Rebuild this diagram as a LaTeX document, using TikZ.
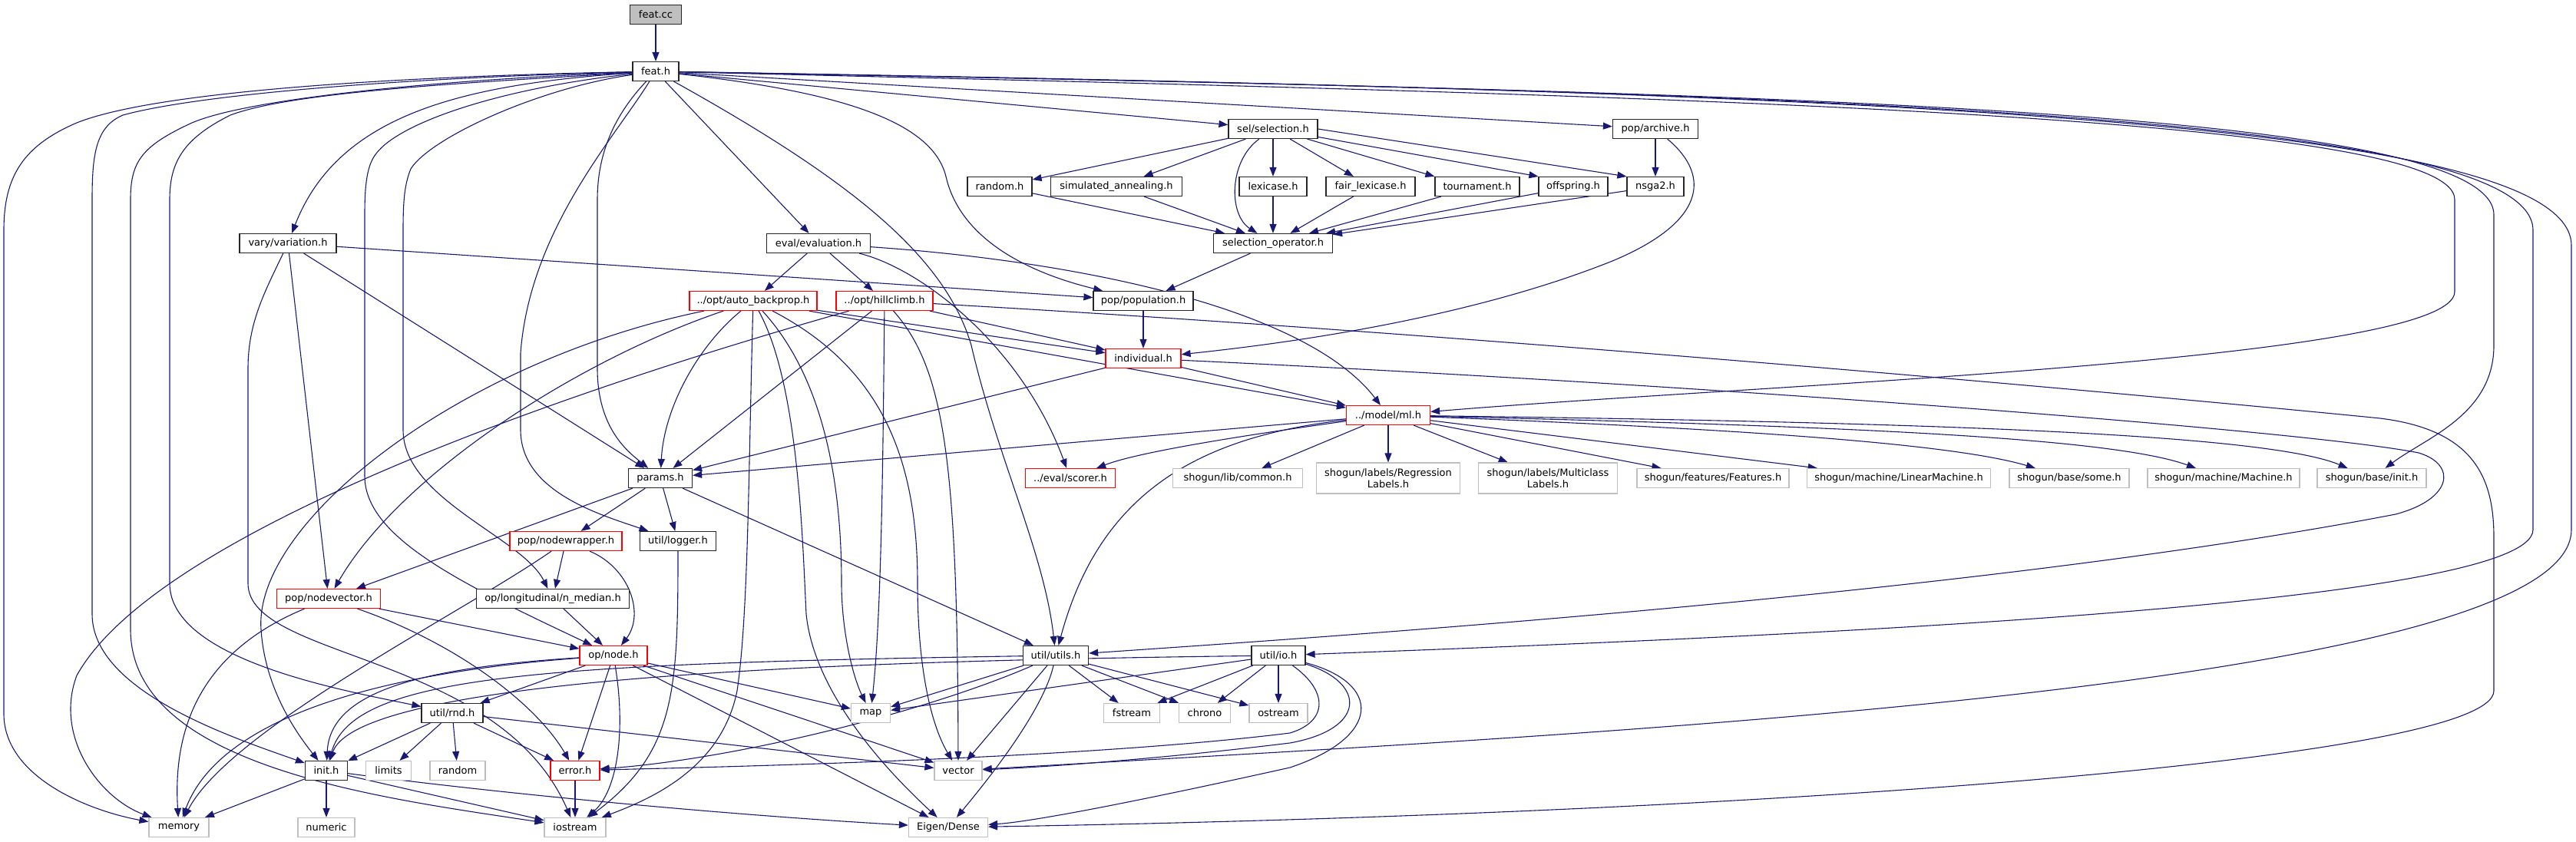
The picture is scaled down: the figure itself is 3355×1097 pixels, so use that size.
\documentclass[tikz,border=0pt]{standalone}
\usepackage{fontspec}
\setmainfont{DejaVu Sans}
\usepackage{tikz}
\usetikzlibrary{arrows.meta}
\definecolor{edgeblue}{RGB}{25,25,112}
\definecolor{extgray}{RGB}{191,191,191}
\definecolor{truncred}{RGB}{255,0,0}
\pgfdeclarelayer{background}
\pgfsetlayers{background,main}
\tikzset{
  file/.style={draw=black!85,line width=1.2pt,fill=white,inner sep=0pt,minimum height=25pt,
    font=\fontsize{13}{15}\selectfont},
  root/.style={file,fill=extgray},
  trunc/.style={file,draw=truncred},
  ext/.style={file,draw=extgray},
  dep/.style={draw=edgeblue,line width=1.1pt,-{Triangle[length=12pt,width=9pt]}}
}

\begin{document}
\begin{tikzpicture}[x=1pt,y=-1pt]
  \useasboundingbox (0,0) rectangle (3355,1097);
  % rows of the graph
  \node[root,minimum width=67pt] (fcc) at (854,19) {feat.cc};
  \node[file,minimum width=60pt] (fh) at (854,93) {feat.h};
  \node[file,minimum width=116pt] (sel) at (1658,168) {sel/selection.h};
  \node[file,minimum width=111pt] (arch) at (2156,168) {pop/archive.h};
  \node[file,minimum width=84pt] (rsel) at (1302,243) {random.h};
  \node[file,minimum width=171pt] (sa) at (1454,243) {simulated\_annealing.h};
  \node[file,minimum width=88pt] (lex) at (1658,243) {lexicase.h};
  \node[file,minimum width=116pt] (flex) at (1785,243) {fair\_lexicase.h};
  \node[file,minimum width=110pt] (tour) at (1924,243) {tournament.h};
  \node[file,minimum width=90pt] (offs) at (2049,243) {offspring.h};
  \node[file,minimum width=74pt] (nsga) at (2156,243) {nsga2.h};
  \node[file,minimum width=155pt] (selop) at (1658,317) {selection\_operator.h};
  \node[file,minimum width=126pt] (vary) at (375,317) {vary/variation.h};
  \node[file,minimum width=135pt] (eval) at (1066,317) {eval/evaluation.h};
  \node[trunc,minimum width=166pt] (abp) at (981,392) {../opt/auto\_backprop.h};
  \node[trunc,minimum width=126pt] (hill) at (1152,392) {../opt/hillclimb.h};
  \node[file,minimum width=130pt] (popu) at (1489,392) {pop/population.h};
  \node[trunc,minimum width=98pt] (indiv) at (1489,467) {individual.h};
  \node[trunc,minimum width=109pt] (ml) at (1808,541) {../model/ml.h};
  \node[file,minimum width=83pt] (params) at (860,623) {params.h};
  \node[trunc,minimum width=117pt] (scorer) at (1394,623) {../eval/scorer.h};
  \node[ext,minimum width=169pt] (common) at (1612,623) {shogun/lib/common.h};
  \node[ext,minimum width=187pt,minimum height=40pt,align=center] (reglab) at (1808,623) {shogun/labels/Regression\\Labels.h};
  \node[ext,minimum width=181pt,minimum height=40pt,align=center] (mclab) at (2016,623) {shogun/labels/Multiclass\\Labels.h};
  \node[ext,minimum width=198pt] (feats) at (2231,623) {shogun/features/Features.h};
  \node[ext,minimum width=239pt] (linm) at (2473,623) {shogun/machine/LinearMachine.h};
  \node[ext,minimum width=156pt] (some) at (2695,623) {shogun/base/some.h};
  \node[ext,minimum width=198pt] (mach) at (2896,623) {shogun/machine/Machine.h};
  \node[ext,minimum width=142pt] (sginit) at (3089,623) {shogun/base/init.h};
  \node[trunc,minimum width=146pt] (nwrap) at (737,705) {pop/nodewrapper.h};
  \node[file,minimum width=99pt] (logger) at (883,705) {util/logger.h};
  \node[trunc,minimum width=135pt] (nvec) at (428,780) {pop/nodevector.h};
  \node[file,minimum width=199pt] (nmed) at (720,780) {op/longitudinal/n\_median.h};
  \node[trunc,minimum width=88pt] (opnode) at (799,854) {op/node.h};
  \node[file,minimum width=85pt] (utils) at (1375,854) {util/utils.h};
  \node[file,minimum width=70pt] (io) at (1665,854) {util/io.h};
  \node[file,minimum width=80pt] (rndh) at (589,929) {util/rnd.h};
  \node[ext,minimum width=51pt] (map) at (1134,929) {map};
  \node[ext,minimum width=73pt] (fstream) at (1474,929) {fstream};
  \node[ext,minimum width=67pt] (chrono) at (1569,929) {chrono};
  \node[ext,minimum width=76pt] (ostream) at (1665,929) {ostream};
  \node[file,minimum width=55pt] (init) at (425,1004) {init.h};
  \node[ext,minimum width=59pt] (limits) at (506,1004) {limits};
  \node[ext,minimum width=72pt] (random) at (596,1004) {random};
  \node[trunc,minimum width=64pt] (error) at (749,1004) {error.h};
  \node[ext,minimum width=62pt] (vector) at (1248,1004) {vector};
  \node[ext,minimum width=78pt] (memory) at (233,1078) {memory};
  \node[ext,minimum width=74pt] (numeric) at (425,1078) {numeric};
  \node[ext,minimum width=80pt] (iostream) at (749,1078) {iostream};
  \node[ext,minimum width=103pt] (eigen) at (1235,1078) {Eigen/Dense};

  \begin{pgfonlayer}{background}
  \draw[dep] (fcc) -- (fh);
  % feat.h, to the left
  \draw[dep] (fh) .. controls (500,100) and (200,120) .. (100,160) .. controls (30,190) and (5,230) .. (5,300) -- (5,930) .. controls (5,1010) and (110,1055) .. (memory);
  \draw[dep] (fh) .. controls (500,102) and (250,125) .. (160,150) .. controls (125,165) and (120,200) .. (120,260) -- (120,800) .. controls (120,900) and (300,960) .. (init);
  \draw[dep] (fh) .. controls (550,105) and (320,130) .. (250,160) .. controls (185,190) and (170,210) .. (170,260) -- (170,820) .. controls (170,1000) and (500,1040) .. (iostream);
  \draw[dep] (fh) .. controls (600,108) and (380,120) .. (300,150) .. controls (240,180) and (221,210) .. (221,260) -- (221,760) .. controls (221,860) and (450,900) .. (rndh);
  \draw[dep] (fh) .. controls (600,110) and (440,150) .. (vary);
  \draw[dep] (fh) .. controls (650,115) and (520,160) .. (490,200) .. controls (478,215) and (475,240) .. (475,280) -- (475,620) .. controls (475,700) and (600,760) .. (opnode);
  \draw[dep] (fh) .. controls (700,115) and (560,180) .. (535,220) .. controls (527,240) and (525,260) .. (525,300) -- (525,560) .. controls (525,650) and (680,700) .. (nmed);
  \draw[dep] (fh) .. controls (800,180) and (690,300) .. (678,460) -- (678,560) .. controls (678,640) and (780,670) .. (logger);
  \draw[dep] (fh) .. controls (800,150) and (778,200) .. (778,260) -- (778,480) .. controls (778,560) and (820,590) .. (params);
  % feat.h, to the right
  \draw[dep] (fh) -- (eval);
  \draw[dep] (fh) .. controls (1100,230) and (1230,330) .. (1265,450) .. controls (1300,600) and (1360,720) .. (utils);
  \draw[dep] (fh) .. controls (1100,120) and (1215,160) .. (1232,230) .. controls (1255,330) and (1380,365) .. (popu);
  \draw[dep] (fh) -- (sel);
  \draw[dep] (fh) -- (arch);
  \draw[dep] (fh) .. controls (2200,125) and (3197,150) .. (3197,260) -- (3197,380) .. controls (3197,470) and (2300,500) .. (ml);
  \draw[dep] (fh) .. controls (2300,120) and (3248,140) .. (3248,280) -- (3248,450) .. controls (3248,540) and (3160,570) .. (sginit);
  \draw[dep] (fh) .. controls (2400,120) and (3299,150) .. (3299,300) -- (3299,690) .. controls (3299,790) and (2300,830) .. (io);
  \draw[dep] (fh) .. controls (2500,120) and (3349,160) .. (3349,320) -- (3349,690) .. controls (3349,900) and (2000,960) .. (vector);
  % selection
  \draw[dep] (sel) -- (rsel);
  \draw[dep] (sel) -- (sa);
  \draw[dep] (sel) -- (lex);
  \draw[dep] (sel) .. controls (1600,210) and (1600,280) .. (selop);
  \draw[dep] (sel) -- (flex);
  \draw[dep] (sel) -- (tour.north west);
  \draw[dep] (sel) -- (offs.north west);
  \draw[dep] (sel.east) -- (nsga.north west);
  \draw[dep] (rsel) -- (selop);
  \draw[dep] (sa) -- (selop);
  \draw[dep] (lex) -- (selop);
  \draw[dep] (flex) -- (selop);
  \draw[dep] (tour) -- (selop);
  \draw[dep] (offs) -- (selop);
  \draw[dep] (nsga) -- (selop);
  \draw[dep] (arch) -- (nsga);
  \draw[dep] (arch) .. controls (2230,230) and (2220,290) .. (2100,340) .. controls (1900,420) and (1650,450) .. (indiv);
  \draw[dep] (selop) -- (popu);
  % variation, evaluation
  \draw[dep] (vary) -- (popu);
  \draw[dep] (vary) -- (nvec);
  \draw[dep] (vary) -- (params);
  \draw[dep] (vary) .. controls (345,380) and (323,420) .. (323,480) -- (323,760) .. controls (323,860) and (650,850) .. (iostream);
  \draw[dep] (eval) -- (abp);
  \draw[dep] (eval) -- (hill);
  \draw[dep] (eval) .. controls (1200,350) and (1330,450) .. (scorer);
  \draw[dep] (eval) .. controls (1400,340) and (1700,400) .. (ml);
  % optimisers
  \draw[dep] (abp) -- (indiv);
  \draw[dep] (abp) -- (ml);
  \draw[dep] (abp) .. controls (910,450) and (865,530) .. (params);
  \draw[dep] (abp) .. controls (600,470) and (330,680) .. (340,820) .. controls (345,900) and (390,960) .. (init);
  \draw[dep] (abp) .. controls (750,470) and (520,620) .. (nvec);
  \draw[dep] (abp) .. controls (975,600) and (975,800) .. (960,900) .. controls (940,1000) and (850,1040) .. (iostream);
  \draw[dep] (abp) .. controls (1040,500) and (1045,700) .. (1050,800) .. controls (1060,900) and (1150,1000) .. (eigen);
  \draw[dep] (abp) .. controls (1080,500) and (1096,650) .. (1096,760) .. controls (1096,820) and (1110,880) .. (map);
  \draw[dep] (abp) .. controls (1150,480) and (1195,600) .. (1195,760) .. controls (1195,860) and (1210,940) .. (vector);
  \draw[dep] (hill) -- (indiv);
  \draw[dep] (hill) -- (params);
  \draw[dep] (hill) .. controls (700,520) and (200,700) .. (100,880) .. controls (70,960) and (130,1040) .. (memory);
  \draw[dep] (hill) .. controls (1150,600) and (1148,800) .. (map);
  \draw[dep] (hill) .. controls (1230,480) and (1247,600) .. (vector);
  \draw[dep] (hill) .. controls (2000,440) and (2900,525) .. (3100,545) .. controls (3220,560) and (3248,620) .. (3248,700) -- (3248,900) .. controls (3248,990) and (2300,1060) .. (eigen);
  % population, model
  \draw[dep] (popu) -- (indiv);
  \draw[dep] (indiv) -- (ml);
  \draw[dep] (indiv) -- (params);
  \draw[dep] (indiv) .. controls (2200,500) and (3000,560) .. (3150,590) .. controls (3200,605) and (3195,650) .. (3120,670) .. controls (2600,770) and (1800,825) .. (utils);
  \draw[dep] (ml) -- (params);
  \draw[dep] (ml) .. controls (1600,570) and (1480,590) .. (scorer);
  \draw[dep] (ml) .. controls (1550,570) and (1430,650) .. (utils);
  \draw[dep] (ml) -- (common);
  \draw[dep] (ml) -- (reglab);
  \draw[dep] (ml) -- (mclab);
  \draw[dep] (ml) -- (feats);
  \draw[dep] (ml) -- (linm);
  \draw[dep] (ml) .. controls (2300,560) and (2550,580) .. (some);
  \draw[dep] (ml) .. controls (2400,555) and (2750,570) .. (mach);
  \draw[dep] (ml) .. controls (2500,550) and (2950,565) .. (sginit);
  % params and nodes
  \draw[dep] (params) -- (nwrap);
  \draw[dep] (params) -- (logger);
  \draw[dep] (params) -- (utils);
  \draw[dep] (params) -- (nvec);
  \draw[dep] (nwrap) .. controls (600,800) and (300,950) .. (memory);
  \draw[dep] (nwrap) -- (nmed);
  \draw[dep] (nwrap) .. controls (820,740) and (840,800) .. (opnode);
  \draw[dep] (logger) .. controls (883,900) and (880,980) .. (iostream);
  \draw[dep] (nvec) .. controls (260,850) and (225,950) .. (memory);
  \draw[dep] (nvec) .. controls (600,840) and (700,920) .. (error);
  \draw[dep] (nvec) -- (opnode);
  \draw[dep] (nmed) -- (opnode);
  \draw[dep] (opnode) .. controls (550,870) and (430,900) .. (init);
  \draw[dep] (opnode) .. controls (450,880) and (280,950) .. (memory);
  \draw[dep] (opnode) -- (rndh);
  \draw[dep] (opnode) -- (error);
  \draw[dep] (opnode) .. controls (815,950) and (805,1030) .. (iostream);
  \draw[dep] (opnode) -- (map);
  \draw[dep] (opnode) -- (vector);
  \draw[dep] (opnode) -- (eigen);
  % util
  \draw[dep] (utils) .. controls (700,865) and (460,880) .. (init);
  \draw[dep] (utils) -- (map);
  \draw[dep] (utils) .. controls (1200,930) and (950,990) .. (error);
  \draw[dep] (utils) -- (fstream);
  \draw[dep] (utils) -- (chrono);
  \draw[dep] (utils) -- (ostream);
  \draw[dep] (utils) -- (vector);
  \draw[dep] (utils) .. controls (1360,920) and (1300,1000) .. (eigen);
  \draw[dep] (io) .. controls (1200,860) and (470,875) .. (init);
  \draw[dep] (io) -- (map);
  \draw[dep] (io) -- (fstream);
  \draw[dep] (io) -- (chrono);
  \draw[dep] (io) -- (ostream);
  \draw[dep] (io) .. controls (1730,900) and (1730,940) .. (1680,955) .. controls (1400,990) and (900,1000) .. (error);
  \draw[dep] (io) .. controls (1780,890) and (1780,950) .. (1680,968) .. controls (1500,990) and (1350,1000) .. (vector);
  \draw[dep] (io) .. controls (1800,890) and (1800,960) .. (1680,1000) .. controls (1500,1040) and (1350,1070) .. (eigen);
  \draw[dep] (rndh) -- (init);
  \draw[dep] (rndh) -- (limits);
  \draw[dep] (rndh) -- (random);
  \draw[dep] (rndh) -- (error);
  \draw[dep] (rndh) -- (vector);
  \draw[dep] (init) -- (memory);
  \draw[dep] (init) -- (numeric);
  \draw[dep] (init) -- (iostream);
  \draw[dep] (init) .. controls (700,1040) and (1000,1065) .. (eigen);
  \draw[dep] (error) -- (iostream);
  \end{pgfonlayer}
\end{tikzpicture}
\end{document}
